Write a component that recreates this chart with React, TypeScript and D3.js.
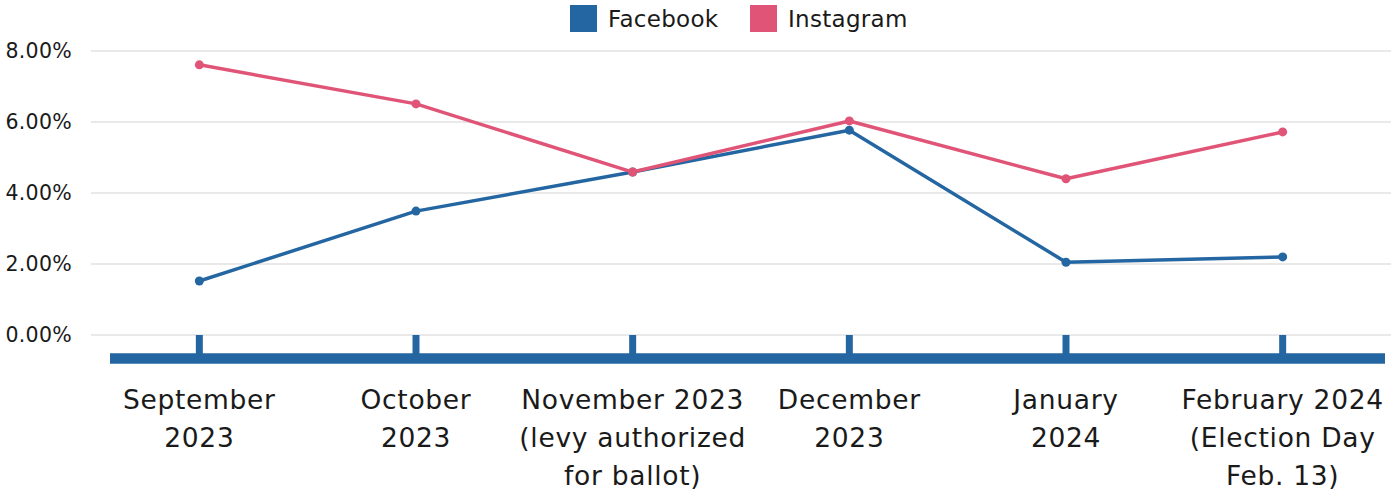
import React from "react";
import * as d3 from "d3";

const categories: string[][] = [
  ["September", "2023"],
  ["October", "2023"],
  ["November 2023", "(levy authorized", "for ballot)"],
  ["December", "2023"],
  ["January", "2024"],
  ["February 2024", "(Election Day", "Feb. 13)"],
];
const facebook = [1.52, 3.49, 4.59, 5.77, 2.05, 2.2];
const instagram = [7.61, 6.51, 4.59, 6.03, 4.4, 5.72];
const yTicks = [0, 2, 4, 6, 8];
const seriesNames = ["Facebook", "Instagram"];

const W = 1392;
const H = 495;
const FONT = "'DejaVu Sans', sans-serif";
const BLUE = "#2466a1";
const PINK = "#e05577";

export default function App() {
  const x = d3
    .scaleBand<number>()
    .domain(categories.map((_, i) => i))
    .range([91, 1391]);
  const y = d3.scaleLinear().domain([0, 8]).range([335, 51]);
  const cx = (i: number) => (x(i) as number) + x.bandwidth() / 2;
  const line = d3
    .line<number>()
    .x((_, i) => cx(i))
    .y((d) => y(d));
  const series = [
    { name: seriesNames[0], values: facebook, color: BLUE },
    { name: seriesNames[1], values: instagram, color: PINK },
  ];
  const axisY = 358.5;
  const legendX = [570, 750];

  return (
    <svg
      width={W}
      height={H}
      style={{ position: "absolute", left: 0, top: 0, fontFamily: FONT }}
    >
      <rect width={W} height={H} fill="#fff" />
      {yTicks.map((t) => (
        <g key={t}>
          <line x1={91} x2={1391} y1={y(t)} y2={y(t)} stroke="#d4d4d4" strokeWidth={1.2} />
          <text x={72} y={y(t)} dy="0.35em" textAnchor="end" fontSize={20.5} letterSpacing={0.3} fill="#1a1a1a">
            {d3.format(".2f")(t) + "%"}
          </text>
        </g>
      ))}
      {categories.map((_, i) => (
        <line key={i} x1={cx(i)} x2={cx(i)} y1={y(0)} y2={axisY} stroke={BLUE} strokeWidth={7} />
      ))}
      <line x1={110} x2={1385} y1={axisY} y2={axisY} stroke={BLUE} strokeWidth={10.5} />
      {categories.map((lines, i) => (
        <text key={i} x={cx(i)} y={400} textAnchor="middle" fontSize={26.5} letterSpacing={0.7} fill="#1a1a1a">
          {lines.map((l, j) => (
            <tspan key={j} x={cx(i)} y={400 + j * 38} dy="0.35em">
              {l}
            </tspan>
          ))}
        </text>
      ))}
      {series.map((s) => (
        <g key={s.name}>
          <path d={line(s.values) || ""} fill="none" stroke={s.color} strokeWidth={3.5} strokeLinejoin="round" />
          {s.values.map((v, i) => (
            <circle key={i} cx={cx(i)} cy={y(v)} r={4.5} fill={s.color} />
          ))}
        </g>
      ))}
      {series.map((s, i) => (
        <g key={s.name} transform={`translate(${legendX[i]},5)`}>
          <rect width={27} height={27} fill={s.color} />
          <text x={38} y={13.5} dy="0.35em" fontSize={23} letterSpacing={0.3} fill="#1a1a1a">
            {s.name}
          </text>
        </g>
      ))}
    </svg>
  );
}
